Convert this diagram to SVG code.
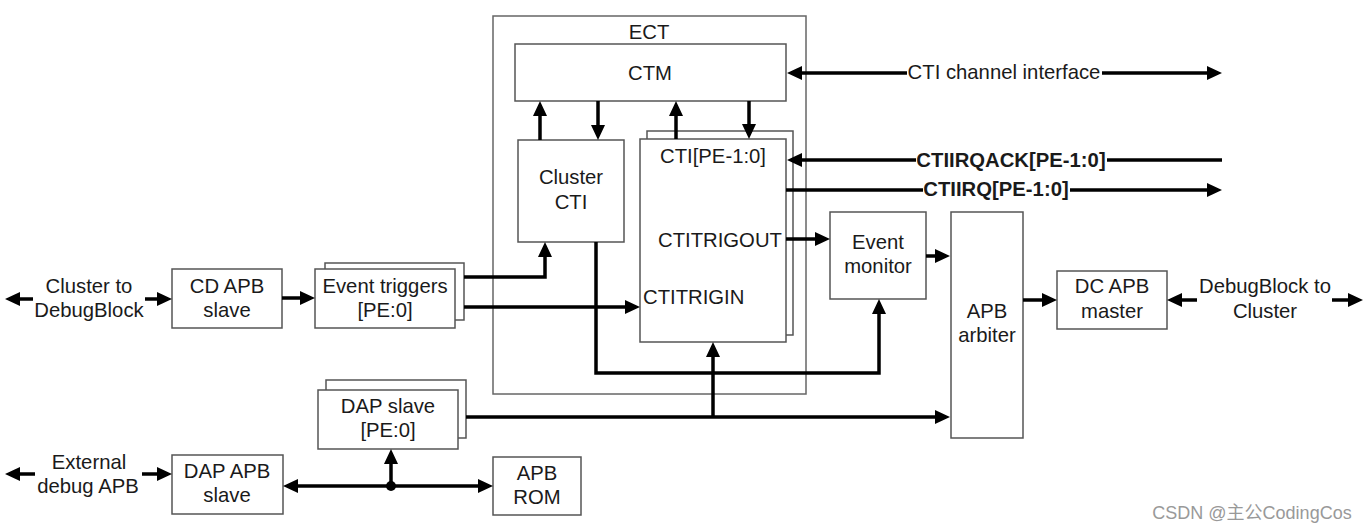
<svg xmlns="http://www.w3.org/2000/svg" width="1370" height="531" viewBox="0 0 1370 531">
<defs>
<style>
.box{fill:#fff;stroke:#555;stroke-width:1.5}
.frame{fill:none;stroke:#666;stroke-width:1.5}
.t{font-family:"Liberation Sans",Arial,sans-serif;font-size:20.3px;fill:#1a1a1a;text-anchor:middle}
.tl{text-anchor:start}
.b{font-weight:bold}
.w{stroke:#000;stroke-width:3.5;fill:none}
.a{marker-end:url(#ah)}
</style>
<marker id="ah" viewBox="0 0 15 14" refX="11" refY="7" markerWidth="15" markerHeight="14" markerUnits="userSpaceOnUse" orient="auto">
<path d="M0,0 L15,7 L0,14 z" fill="#000"/>
</marker>
</defs>
<rect width="1370" height="531" fill="#fff"/>

<g id="ect">
<rect class="frame" x="493" y="16" width="313" height="378"/>
<text class="t" x="649" y="39">ECT</text>
</g>

<g id="ctm">
<rect class="box" x="515" y="44" width="271" height="57"/>
<text class="t" x="650" y="80">CTM</text>
</g>

<g id="cluster-cti">
<rect class="box" x="518" y="140" width="106" height="102"/>
<text class="t" x="571" y="184">Cluster</text>
<text class="t" x="571" y="209">CTI</text>
</g>

<g id="cti">
<rect class="box" x="647" y="131" width="146" height="204"/>
<rect class="box" x="640" y="139" width="146" height="203"/>
<text class="t" x="713" y="163">CTI[PE-1:0]</text>
<text class="t tl" x="658" y="247">CTITRIGOUT</text>
<text class="t tl" x="643" y="304">CTITRIGIN</text>
</g>

<g id="event-monitor">
<rect class="box" x="830" y="212" width="96" height="87"/>
<text class="t" x="878" y="249">Event</text>
<text class="t" x="878" y="273">monitor</text>
</g>

<g id="apb-arbiter">
<rect class="box" x="951" y="212" width="72" height="226"/>
<text class="t" x="987" y="318">APB</text>
<text class="t" x="987" y="342">arbiter</text>
</g>

<g id="dc-apb-master">
<rect class="box" x="1057" y="271" width="110" height="58"/>
<text class="t" x="1112" y="293">DC APB</text>
<text class="t" x="1112" y="318">master</text>
</g>

<g id="cd-apb-slave">
<rect class="box" x="172" y="269" width="110" height="59"/>
<text class="t" x="227" y="293">CD APB</text>
<text class="t" x="227" y="317">slave</text>
</g>

<g id="event-triggers">
<rect class="box" x="325" y="263" width="139" height="57"/>
<rect class="box" x="315" y="269" width="140" height="59"/>
<text class="t" x="385" y="293">Event triggers</text>
<text class="t" x="385" y="317">[PE:0]</text>
</g>

<g id="dap-slave">
<rect class="box" x="326" y="380" width="140" height="58"/>
<rect class="box" x="318" y="390" width="140" height="59"/>
<text class="t" x="388" y="413">DAP slave</text>
<text class="t" x="388" y="437">[PE:0]</text>
</g>

<g id="dap-apb-slave">
<rect class="box" x="172" y="455" width="111" height="59"/>
<text class="t" x="227" y="478">DAP APB</text>
<text class="t" x="227" y="502">slave</text>
</g>

<g id="apb-rom">
<rect class="box" x="493" y="457" width="88" height="58"/>
<text class="t" x="537" y="480">APB</text>
<text class="t" x="537" y="504">ROM</text>
</g>

<g id="cluster-to-debugblock">
<text class="t" x="89" y="293">Cluster to</text>
<text class="t" x="89" y="317">DebugBlock</text>
</g>

<g id="external-debug-apb">
<text class="t" x="89" y="469">External</text>
<text class="t" x="88" y="493">debug APB</text>
</g>

<g id="debugblock-to-cluster">
<text class="t" x="1265" y="293">DebugBlock to</text>
<text class="t" x="1265" y="318">Cluster</text>
</g>

<g id="connectors">
<path class="w a" d="M33,299 H9"/>
<path class="w a" d="M145,299 H168"/>
<path class="w a" d="M282,298 H311"/>
<path class="w a" d="M464,277 H545 V246"/>
<path class="w a" d="M464,307 H636"/>
<path class="w a" d="M596,242 V373 H879 V303"/>
<path class="w a" d="M540,140 V105"/>
<path class="w a" d="M598,101 V136"/>
<path class="w a" d="M676,139 V105"/>
<path class="w a" d="M749,101 V135"/>
<path class="w a" d="M907,73 H791"/>
<path class="w a" d="M1102,73 H1218"/>
<text class="t" x="1004" y="79">CTI channel interface</text>
<path class="w" d="M1222,160 H1107"/>
<path class="w a" d="M916,160 H791"/>
<text class="t b" x="1011" y="167">CTIIRQACK[PE-1:0]</text>
<path class="w" d="M786,190 H923"/>
<path class="w a" d="M1070,190 H1218"/>
<text class="t b" x="996" y="196">CTIIRQ[PE-1:0]</text>
<path class="w a" d="M786,239 H826"/>
<path class="w a" d="M926,256 H946"/>
<path class="w a" d="M466,417 H946"/>
<path class="w a" d="M713,417 V346"/>
<path class="w a" d="M1023,300 H1053"/>
<path class="w a" d="M1197,300 H1171"/>
<path class="w a" d="M1332,300 H1359"/>
<path class="w a" d="M35,474 H9"/>
<path class="w a" d="M142,474 H168"/>
<path class="w a" d="M391,486 H287"/>
<path class="w a" d="M391,486 H489"/>
<path class="w a" d="M391,486 V453"/>
<circle cx="391" cy="486" r="5" fill="#000"/>
</g>

<text x="1252" y="519" font-family="'Liberation Sans','Noto Sans CJK SC',sans-serif" font-size="18" fill="#999" text-anchor="middle">CSDN @主公CodingCos</text>
</svg>
